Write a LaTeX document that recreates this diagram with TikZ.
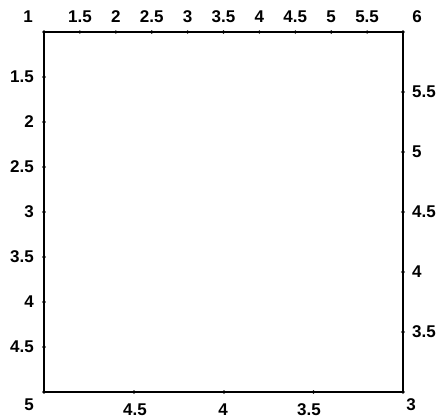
\documentclass[tikz,border=0pt]{standalone}
\usepackage{fontspec}
\setmainfont{Liberation Sans}
\tikzset{
  lbl/.style={font=\bfseries\fontsize{17}{19}\selectfont,inner sep=0pt},
  tick/.style={circle,fill,inner sep=0pt,minimum size=3.6pt},
  frame/.style={line width=1.6pt}
}
\begin{document}
\begin{tikzpicture}[x=1pt,y=-1pt]
\useasboundingbox (0,0) rectangle (439,420);
% corners
\node(c1) at (44,32)[tick]{};
\node(c2) at (403,32)[tick]{};
\node(c3) at (403,392)[tick]{};
\node(c4) at (44,392)[tick]{};
\draw[frame] (c1.center) -- (c2.center) -- (c3.center) -- (c4.center) -- cycle;
% top scale
\node(t1) at (79.9,32)[tick]{};
\node(t2) at (115.8,32)[tick]{};
\node(t3) at (151.7,32)[tick]{};
\node(t4) at (187.6,32)[tick]{};
\node(t5) at (223.5,32)[tick]{};
\node(t6) at (259.4,32)[tick]{};
\node(t7) at (295.3,32)[tick]{};
\node(t8) at (331.2,32)[tick]{};
\node(t9) at (367.1,32)[tick]{};
\node(lt0) at (28,17)[lbl]{1};
\node(lt1) at (79.9,17)[lbl]{1.5};
\node(lt2) at (115.8,17)[lbl]{2};
\node(lt3) at (151.7,17)[lbl]{2.5};
\node(lt4) at (187.6,17)[lbl]{3};
\node(lt5) at (223.5,17)[lbl]{3.5};
\node(lt6) at (259.4,17)[lbl]{4};
\node(lt7) at (295.3,17)[lbl]{4.5};
\node(lt8) at (331.2,17)[lbl]{5};
\node(lt9) at (367.1,17)[lbl]{5.5};
\node(lt10) at (417,17)[lbl]{6};
% left scale
\node(l1) at (44,77)[tick]{};
\node(l2) at (44,122)[tick]{};
\node(l3) at (44,167)[tick]{};
\node(l4) at (44,212)[tick]{};
\node(l5) at (44,257)[tick]{};
\node(l6) at (44,302)[tick]{};
\node(l7) at (44,347)[tick]{};
\node(ll1) at (34,77)[lbl,anchor=east]{1.5};
\node(ll2) at (34,122)[lbl,anchor=east]{2};
\node(ll3) at (34,167)[lbl,anchor=east]{2.5};
\node(ll4) at (34,212)[lbl,anchor=east]{3};
\node(ll5) at (34,257)[lbl,anchor=east]{3.5};
\node(ll6) at (34,302)[lbl,anchor=east]{4};
\node(ll7) at (34,347)[lbl,anchor=east]{4.5};
\node(ll8) at (29,405)[lbl]{5};
% right scale
\node(r1) at (403,92)[tick]{};
\node(r2) at (403,152)[tick]{};
\node(r3) at (403,212)[tick]{};
\node(r4) at (403,272)[tick]{};
\node(r5) at (403,332)[tick]{};
\node(lr1) at (412,92)[lbl,anchor=west]{5.5};
\node(lr2) at (412,152)[lbl,anchor=west]{5};
\node(lr3) at (412,212)[lbl,anchor=west]{4.5};
\node(lr4) at (412,272)[lbl,anchor=west]{4};
\node(lr5) at (412,332)[lbl,anchor=west]{3.5};
\node(lr6) at (411,405)[lbl]{3};
% bottom scale
\node(b1) at (134,392)[tick]{};
\node(b2) at (224,392)[tick]{};
\node(b3) at (313.5,392)[tick]{};
\node(lb1) at (135,410)[lbl]{4.5};
\node(lb2) at (223,410)[lbl]{4};
\node(lb3) at (309,410)[lbl]{3.5};

\end{tikzpicture}
\end{document}
